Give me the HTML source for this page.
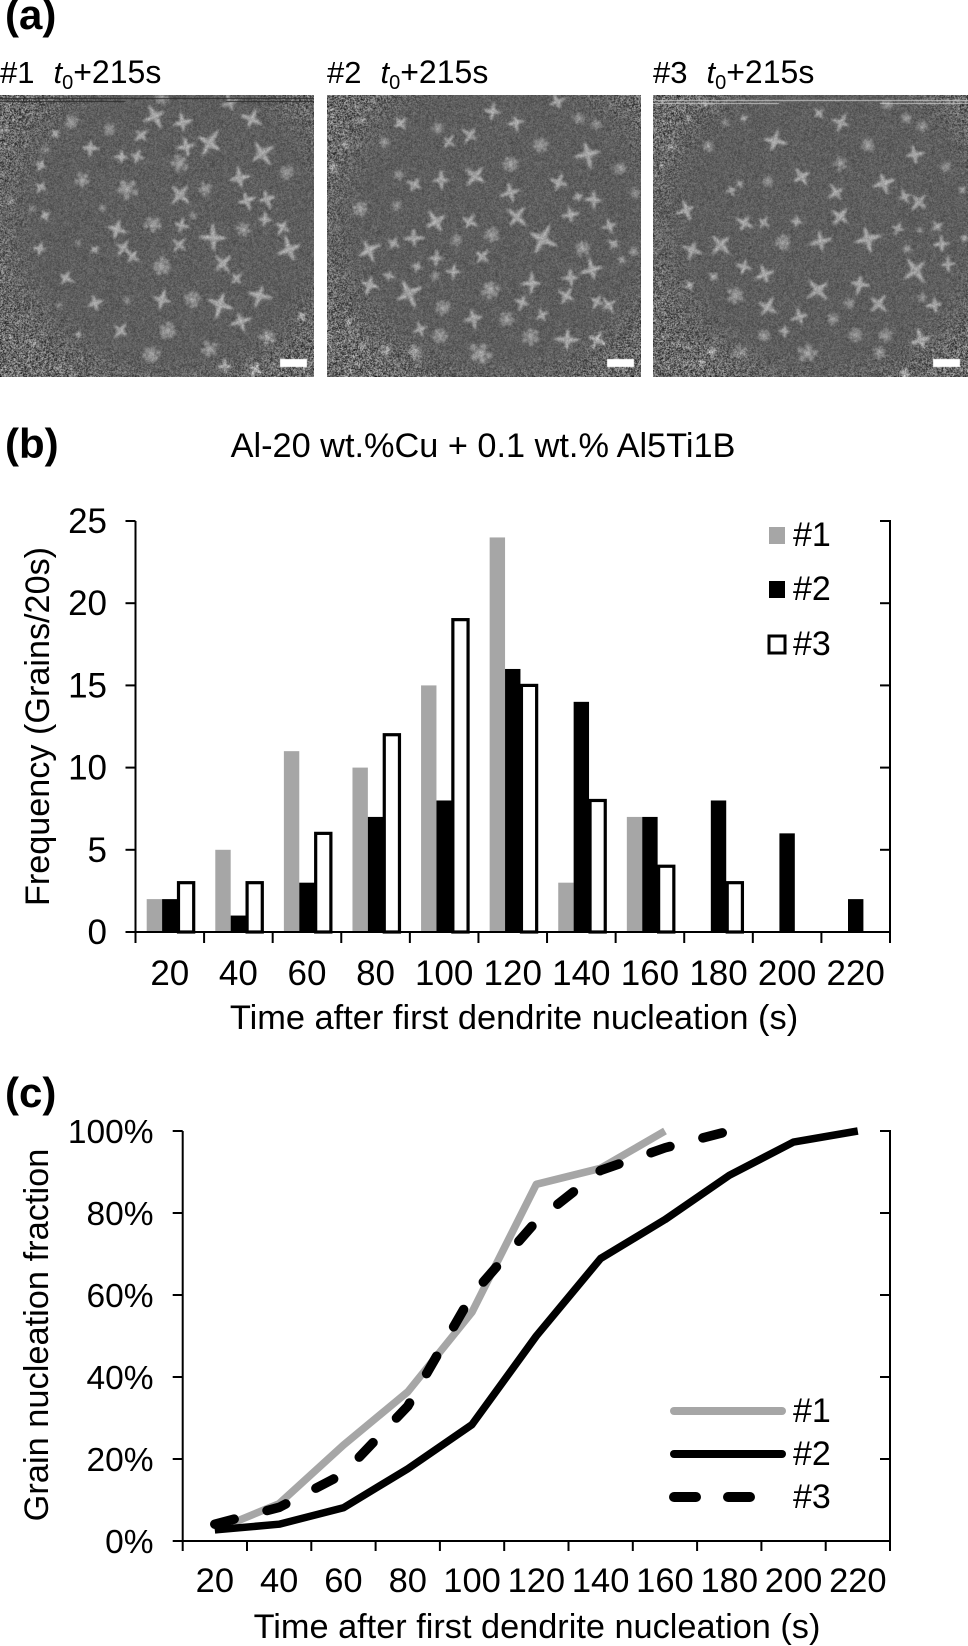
<!DOCTYPE html>
<html lang="en">
<head>
<meta charset="utf-8">
<title>Grain nucleation figure</title>
<style>
html,body{margin:0;padding:0;background:#fff;}
#figure{position:relative;width:968px;height:1646px;overflow:hidden;background:#fff;font-family:"Liberation Sans",Arial,sans-serif;}
canvas{position:absolute;display:block;}
svg{position:absolute;left:0;top:0;}
text{font-family:"Liberation Sans",Arial,sans-serif;fill:#000;}
</style>
</head>
<body>
<div id="figure">
<canvas id="panel1" width="314" height="282" style="left:0;top:95px"></canvas>
<canvas id="panel2" width="314" height="282" style="left:327px;top:95px"></canvas>
<canvas id="panel3" width="315" height="282" style="left:653px;top:95px"></canvas>
<svg id="art" width="968" height="1646" viewBox="0 0 968 1646">
  <text x="5" y="29" font-size="42" font-weight="bold">(a)</text>
  <text x="0" y="83" font-size="31">#1<tspan dx="19" font-style="italic">t</tspan><tspan dy="6" font-size="20">0</tspan><tspan dy="-6" font-size="32">+215s</tspan></text>
  <text x="327" y="83" font-size="31">#2<tspan dx="19" font-style="italic">t</tspan><tspan dy="6" font-size="20">0</tspan><tspan dy="-6" font-size="32">+215s</tspan></text>
  <text x="653" y="83" font-size="31">#3<tspan dx="19" font-style="italic">t</tspan><tspan dy="6" font-size="20">0</tspan><tspan dy="-6" font-size="32">+215s</tspan></text>
  <text x="5" y="458" font-size="42" font-weight="bold">(b)</text>
  <text x="483" y="457" font-size="34.3" text-anchor="middle">Al-20 wt.%Cu + 0.1 wt.% Al5Ti1B</text>
  <text x="5" y="1107" font-size="42" font-weight="bold">(c)</text>
  <text transform="translate(49,726.5) rotate(-90)" font-size="34.2" text-anchor="middle">Frequency (Grains/20s)</text>
  <text x="514" y="1029" font-size="34.4" text-anchor="middle">Time after first dendrite nucleation (s)</text>
  <text transform="translate(48,1335) rotate(-90)" font-size="34.4" text-anchor="middle">Grain nucleation fraction</text>
  <text x="537" y="1638" font-size="34.3" text-anchor="middle">Time after first dendrite nucleation (s)</text>
  <g id="chartB"></g>
  <g id="chartC"></g>
</svg>
</div>
<script>
// ---------- chart data ----------
const categories = [20,40,60,80,100,120,140,160,180,200,220];
const seriesNames = ['#1','#2','#3'];
const freq1 = [2,5,11,10,15,24,3,7,0,0,0];
const freq2 = [2,1,3,7,8,16,14,7,8,6,2];
const freq3 = [3,3,6,12,19,15,8,4,3,0,0];
const freqTicks = [0,5,10,15,20,25];
const frac1 = [2.6,9.1,23.4,36.4,55.8,87,90.9,100];
const frac2 = [2.7,4.1,8.1,17.6,28.4,50,68.9,78.4,89.2,97.3,100];
const frac3 = [4.1,8.2,16.4,32.9,60,78,90.4,95.9,100];
const fracTicks = [0,20,40,60,80,100];

// ---------- helpers ----------
const NS = 'http://www.w3.org/2000/svg';
function make(parent, tag, attrs, txt){
  const e = document.createElementNS(NS, tag);
  for (const k in attrs) e.setAttribute(k, attrs[k]);
  if (txt !== undefined) e.textContent = txt;
  parent.appendChild(e);
  return e;
}
function line(parent,x1,y1,x2,y2,w){
  return make(parent,'line',{x1:x1,y1:y1,x2:x2,y2:y2,stroke:'#000','stroke-width':w||2});
}

// ---------- chart b ----------
(function(){
  const g = document.getElementById('chartB');
  const L=135.5, R=890, T=521, B=932;
  const band = (R-L)/categories.length;
  const barW = 15.4;
  const xBand = i => L + band*i;
  const yVal = v => B - (v/25)*(B-T);
  const colors = ['#a6a6a6','#000','#fff'];
  const all = [freq1,freq2,freq3];
  all.forEach(function(vals,s){
    vals.forEach(function(v,i){
      if (v<=0) return;
      const x = xBand(i) + (band-barW*3)/2 + s*barW;
      const attrs = {x:x,y:yVal(v),width:barW,height:B-yVal(v),fill:colors[s]};
      if (s===2){ attrs.stroke='#000'; attrs['stroke-width']=3.2; attrs.x=x+1; attrs.width=barW-0.2; }
      const r = make(g,'rect',attrs);
      
      
    });
  });
  const ax1 = line(g,L,T,L,B);
  
  
  const ax2 = line(g,R,T,R,B);
  
  
  const ax3 = line(g,L,B,R,B);
  
  
  freqTicks.forEach(function(t){
    const y = yVal(t);
    line(g,L-10,y,L,y);
    line(g,R-10,y,R+1,y);
    const lab = make(g,'text',{x:107,y:y+12,'font-size':35,'text-anchor':'end'},t);
    
    
  });
  categories.forEach(function(c,i){
    line(g,xBand(i),B,xBand(i),B+11);
    const lab = make(g,'text',{x:xBand(i)+band/2,y:985,'font-size':35,'text-anchor':'middle'},c);
    
    
  });
  line(g,R,B,R,B+11);
  // legend
  const ly = [527,581,636];
  seriesNames.forEach(function(n,s){
    const a = {x:769,y:ly[s],width:16,height:17,fill:colors[s]};
    if (s===2){ a.stroke='#000'; a['stroke-width']=3; }
    const sw = make(g,'rect',a);
    
    
    const t = make(g,'text',{x:793,y:ly[s]+19,'font-size':34},n);
    
    
  });
})();

// ---------- chart c ----------
(function(){
  const g = document.getElementById('chartC');
  const L=182.7, R=890, T=1131, B=1541;
  const band = (R-L)/categories.length;
  const xBand = i => L + band*i;
  const xPt = i => L + band*(i+0.5);
  const yVal = v => B - (v/100)*(B-T);
  const ax1 = line(g,L,T,L,B);
  
  
  const ax2 = line(g,R,T,R,B);
  
  
  const ax3 = line(g,L,B,R,B);
  
  
  fracTicks.forEach(function(t){
    const y = yVal(t);
    line(g,L-10,y,L,y);
    line(g,R-10,y,R+1,y);
    const lab = make(g,'text',{x:153.5,y:y+12,'font-size':33.5,'text-anchor':'end'},t+'%');
    
    
  });
  categories.forEach(function(c,i){
    line(g,xBand(i),B,xBand(i),B+10);
    const lab = make(g,'text',{x:xPt(i),y:1592,'font-size':34.5,'text-anchor':'middle'},c);
    
    
  });
  line(g,R,B,R,B+10);
  const styles = [
    {stroke:'#a6a6a6',w:7.5,dash:null},
    {stroke:'#000',w:7.5,dash:null},
    {stroke:'#000',w:9.5,dash:'20 34'}
  ];
  [frac1,frac2,frac3].forEach(function(vals,s){
    const pts = vals.map(function(v,i){return xPt(i).toFixed(1)+','+yVal(v).toFixed(1);}).join(' ');
    const a = {points:pts,fill:'none',stroke:styles[s].stroke,'stroke-width':styles[s].w,'stroke-linejoin':'round','stroke-linecap':styles[s].dash?'round':'butt'};
    if (styles[s].dash) a['stroke-dasharray']=styles[s].dash;
    const p = make(g,'polyline',a);
    
    
  });
  const ly = [1411,1454,1497];
  seriesNames.forEach(function(n,s){
    const st = styles[s];
    if (st.dash){
      const d1 = make(g,'line',{x1:674,y1:ly[s],x2:696,y2:ly[s],stroke:'#000','stroke-width':10,'stroke-linecap':'round'});
      
      
      const d2 = make(g,'line',{x1:728,y1:ly[s],x2:750,y2:ly[s],stroke:'#000','stroke-width':10,'stroke-linecap':'round'});
      
      
    } else {
      const l = make(g,'line',{x1:674,y1:ly[s],x2:782,y2:ly[s],stroke:st.stroke,'stroke-width':8,'stroke-linecap':'round'});
      
      
    }
    const t = make(g,'text',{x:793,y:ly[s]+11,'font-size':34},n);
    
    
  });
})();

// ---------- micrographs (illustrative crystal field) ----------
// [x, y, radius, isBlob] in 3x crop coordinates
const crystals1 = [[485,295,25,1],[690,310,30,0],[465,350,40,0],[548,368,32,0],[755,358,35,0],[215,368,25,1],[328,390,22,1],[165,402,20,0],[423,408,28,0],[272,445,28,0],[135,450,15,1],[628,430,45,0],[558,442,32,0],[785,462,42,0],[365,472,25,0],[412,470,25,0],[538,492,32,1],[123,497,20,0],[718,535,38,0],[860,518,25,1],[247,542,28,1],[123,562,22,0],[380,568,38,1],[540,585,40,0],[615,568,25,1],[740,603,32,0],[800,598,30,0],[30,605,15,1],[95,627,14,1],[135,647,20,0],[307,625,14,1],[580,647,14,1],[795,660,25,0],[350,688,35,0],[460,675,32,1],[545,677,25,0],[730,690,25,1],[848,682,28,0],[640,715,42,0],[538,735,30,0],[370,745,28,0],[397,770,27,0],[120,748,22,0],[235,730,12,1],[283,750,16,0],[868,750,42,0],[668,792,35,0],[485,800,32,1],[710,837,25,0],[197,835,28,0],[778,888,38,0],[485,900,35,0],[578,900,30,1],[660,915,45,0],[285,910,30,0],[380,903,14,1],[177,917,12,1],[722,965,35,0],[905,950,20,0],[60,965,10,1],[362,993,30,0],[503,993,30,1],[235,1005,12,0],[803,1012,30,1],[130,1000,10,1],[100,1030,12,1],[628,1048,30,1],[455,1065,30,1],[675,1100,25,0],[765,1110,25,0],[175,1105,12,1]];
const crystals2 = [[710,185,28,0],[517,215,30,0],[587,248,28,0],[240,250,28,0],[352,265,22,1],[450,285,30,0],[385,305,25,0],[192,305,20,1],[775,235,22,1],[828,255,20,1],[660,315,28,1],[803,342,42,0],[570,372,28,1],[900,385,22,1],[465,408,40,0],[235,405,20,1],[283,435,28,0],[362,420,30,0],[715,428,30,0],[570,458,32,0],[773,470,18,0],[820,480,30,0],[945,460,18,1],[120,507,28,1],[230,497,18,1],[347,545,40,0],[447,545,28,0],[590,530,38,0],[750,525,28,0],[868,558,25,0],[515,585,28,1],[408,600,20,1],[280,595,32,0],[220,610,25,0],[665,597,48,0],[145,630,38,0],[787,625,27,1],[880,612,22,0],[940,635,18,1],[905,660,15,0],[348,655,25,0],[485,650,30,0],[290,680,18,0],[205,708,20,0],[345,708,18,1],[400,695,25,0],[815,690,35,0],[750,713,28,0],[635,730,35,0],[147,735,32,0],[510,750,32,1],[738,768,30,0],[605,787,28,0],[265,760,45,0],[368,803,27,1],[830,785,25,0],[865,795,28,0],[665,825,22,0],[460,835,35,0],[560,838,27,1],[300,868,25,0],[630,890,30,1],[360,888,27,1],[830,900,32,0],[740,900,38,0],[480,940,40,1],[285,935,28,1],[195,930,20,1],[125,240,14,1],[40,380,16,1],[75,315,14,1],[125,920,14,1],[85,845,12,1]];
const crystals3 = [[195,190,15,1],[742,195,20,1],[537,220,20,0],[605,248,30,0],[312,235,15,0],[257,248,14,1],[145,240,14,1],[800,235,20,1],[848,260,20,1],[405,303,38,0],[207,318,20,1],[685,315,25,1],[97,320,15,1],[825,345,32,0],[603,370,25,1],[65,378,12,1],[920,380,18,1],[385,425,20,1],[487,410,35,0],[733,430,38,0],[275,450,18,0],[300,432,14,0],[590,458,30,0],[795,470,22,0],[838,485,32,0],[968,450,15,0],[140,510,32,0],[603,530,38,0],[315,550,30,0],[372,548,22,0],[470,545,20,0],[775,565,22,0],[840,570,12,1],[892,560,20,0],[430,608,28,1],[543,605,35,0],[685,597,42,0],[243,613,40,0],[158,630,32,0],[803,627,18,1],[905,612,25,0],[975,595,15,0],[313,680,25,0],[925,673,25,0],[375,703,35,0],[828,692,45,0],[222,710,18,0],[660,733,32,0],[150,737,20,0],[535,750,40,0],[287,767,30,1],[630,790,20,1],[715,793,35,0],[848,773,18,1],[885,795,28,0],[383,803,35,0],[480,830,30,0],[580,837,22,1],[70,775,12,1],[373,887,22,1],[435,873,20,0],[648,885,25,1],[738,887,25,1],[845,900,38,0],[215,935,20,0],[303,935,25,1],[503,940,35,1],[720,938,22,1],[185,968,14,1],[795,1000,22,0],[150,920,12,1]];

function rng(seed){ let s=seed>>>0; return function(){ s=(s+0x6D2B79F5)>>>0; let t=s; t=Math.imul(t^(t>>>15),t|1); t^=t+Math.imul(t^(t>>>7),t|61); return ((t^(t>>>14))>>>0)/4294967296; }; }

function renderPanel(id, list, ox, oy, seed, topStripe){
  const c = document.getElementById(id), ctx = c.getContext('2d');
  const W=c.width, H=c.height, R=rng(seed);
  ctx.fillStyle='#5e5e5e'; ctx.fillRect(0,0,W,H);
  ctx.filter='blur(0.9px)';
  list.forEach(function(it){
    const x=(it[0]-ox)/3, y=(it[1]-oy)/3, r=it[2]/3, rot=R()*Math.PI/2+0.2;
    ctx.save(); ctx.translate(x,y); ctx.rotate(rot);
    if (it[3]){
      const n=5+Math.floor(R()*3);
      ctx.fillStyle='#959595';
      ctx.beginPath(); ctx.arc(0,0,r*0.42,0,7); ctx.fill();
      for(let k=0;k<n;k++){
        const a=k/n*Math.PI*2+R()*0.3;
        const d=r*(0.5+R()*0.2);
        ctx.beginPath();
        ctx.arc(Math.cos(a)*d,Math.sin(a)*d,r*0.25,0,7);
        ctx.fill();
      }
      ctx.fillStyle='#aaaaaa';
      ctx.beginPath(); ctx.arc(0,0,r*0.2,0,7); ctx.fill();
    } else {
      for(let k=0;k<4;k++){
        const a=k*Math.PI/2+(R()-0.5)*0.18, len=r*(0.85+R()*0.35), w=r*0.2;
        ctx.save(); ctx.rotate(a);
        ctx.fillStyle='#9a9a9a';
        ctx.beginPath();
        ctx.moveTo(0,-w*1.3);
        ctx.quadraticCurveTo(len*0.45,-w*0.9,len,0);
        ctx.quadraticCurveTo(len*0.45,w*0.9,0,w*1.3);
        ctx.closePath(); ctx.fill();
        ctx.strokeStyle='#e6e6e6'; ctx.lineWidth=Math.max(0.8,r*0.05);
        ctx.beginPath(); ctx.moveTo(0,0); ctx.lineTo(len*0.8,0); ctx.stroke();
        ctx.restore();
      }
    }
    ctx.restore();
  });
  ctx.filter='none';
  const img=ctx.getImageData(0,0,W,H), d=img.data;
  for(let y=0;y<H;y++){
    for(let x=0;x<W;x++){
      const dx=(x-W*0.55)/(W*0.52), dy=(y-H*0.45)/(H*0.56);
      const rr=Math.sqrt(dx*dx+dy*dy);
      let e=(rr-0.8)/0.45; e=e<0?0:e>1?1:e;
      e=e*e*(3-2*e);
      const amp=24+e*62;
      const nz=(R()+R()-1)*amp*1.3;
      const i=(y*W+x)*4;
      let v=d[i]+nz+e*12;
      v=v<0?0:v>255?255:v;
      d[i]=d[i+1]=d[i+2]=v;
    }
  }
  ctx.putImageData(img,0,0);
  if (topStripe){
    ctx.fillStyle=topStripe[0];
    ctx.fillRect(0,topStripe[1],W,1);
    ctx.fillRect(0,topStripe[1]+3,W*0.4,1);
    ctx.fillRect(W*0.72,topStripe[1]+3,W*0.28,1);
  }
  ctx.fillStyle='#fff';
  ctx.fillRect(280,264,27,8);
}
renderPanel('panel1',crystals1,0,286,11,['#2a2a2a',3]);
renderPanel('panel2',crystals2,20,165,22,null);
renderPanel('panel3',crystals3,40,165,33,['rgba(225,225,225,.75)',5]);
</script>
</body>
</html>
